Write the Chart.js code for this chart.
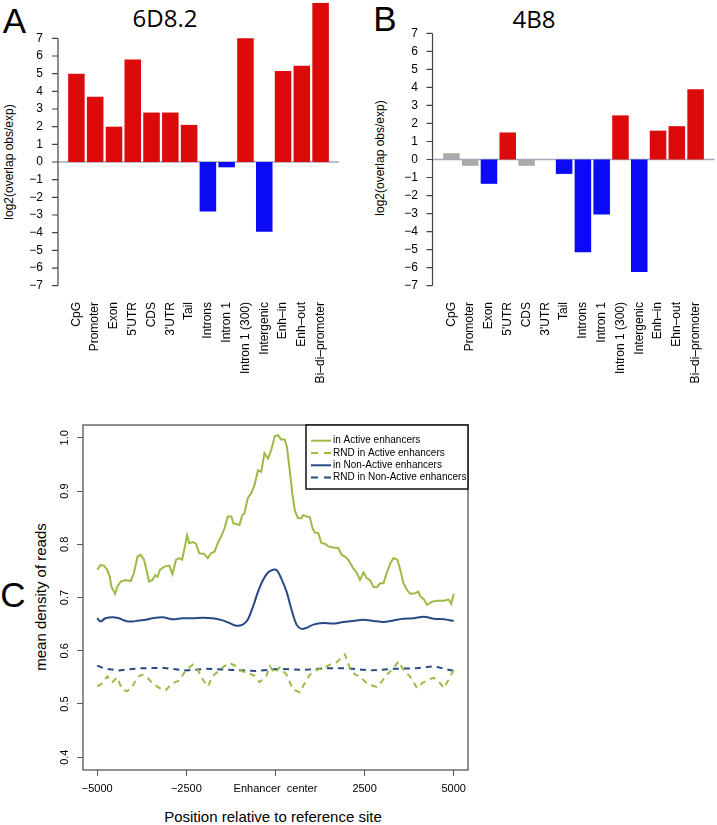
<!DOCTYPE html>
<html lang="en">
<head>
<meta charset="UTF-8" />
<title>6D8.2 / 4B8 overlap enrichment and enhancer read density</title>
<script src="https://cdn.jsdelivr.net/npm/chart.js"></script>
<style>
  body { margin: 0; width: 717px; height: 825px; position: relative; overflow: hidden; background: #fff;
         font-family: "Liberation Sans", Arial, sans-serif; color: #000; }
  canvas { position: absolute; }
  .lbl { position: absolute; white-space: nowrap; line-height: 1; transform: translate(-50%, -50%); }
  .letter { font-size: 35px; }
  .ptitle { font-family: "Open Sans", sans-serif; font-size: 24px; }
  .rot { transform: translate(-50%, -50%) rotate(-90deg); }
</style>
</head>
<body>
<div class="lbl letter" style="left:14.5px; top:19.5px;">A</div>
<div class="lbl letter" style="left:385px; top:18px;">B</div>
<div class="lbl letter" style="left:13px; top:594px;">C</div>
<div class="lbl ptitle" style="left:165px; top:18px;">6D8.2</div>
<div class="lbl ptitle" style="left:534px; top:19px;">4B8</div>
<div class="lbl rot" style="left:9px; top:162px; font-size:12px;">log2(overlap obs/exp)</div>
<div class="lbl rot" style="left:380px; top:158px; font-size:12px;">log2(overlap obs/exp)</div>
<div class="lbl rot" style="left:40px; top:597px; font-size:15px;">mean density of reads</div>
<div class="lbl" style="left:273px; top:816px; font-size:15px;">Position relative to reference site</div>

<canvas id="panelA" width="358" height="395" style="left:0; top:0;"></canvas>
<canvas id="panelB" width="359" height="395" style="left:358px; top:0;"></canvas>
<canvas id="panelC" width="480" height="425" style="left:0; top:400px;"></canvas>

<script>
// ---- panel A / B: log2(overlap obs/exp) per genomic feature ----
const featuresA = ["CpG", "Promoter", "Exon", "5'UTR", "CDS", "3'UTR", "Tail", "Introns", "Intron 1",
                   "Intron 1 (300)", "Intergenic", "Enh–in", "Enh–out", "Bi–di–promoter"];
const featuresB = ["CpG", "Promoter", "Exon", "5'UTR", "CDS", "3'UTR", "Tail", "Introns", "Intron 1",
                   "Intron 1 (300)", "Intergenic", "Enh–in", "Ehn–out", "Bi–di–promoter"];
const values6D8 = [5.0, 3.7, 2.0, 5.8, 2.8, 2.8, 2.1, -2.8, -0.3, 7.0, -3.95, 5.15, 5.45, 9.0];
const values4B8 = [0.35, -0.35, -1.35, 1.5, -0.35, 0, -0.8, -5.15, -3.05, 2.45, -6.25, 1.6, 1.85, 3.9];
const yTicksBars = [-7, -6, -5, -4, -3, -2, -1, 0, 1, 2, 3, 4, 5, 6, 7];

// ---- panel C: mean density of reads around enhancer centre ----
const posActive = [-5000, -4910, -4810, -4720, -4650, -4600, -4500, -4440, -4340, -4200,
                   -4060, -3970, -3870, -3780, -3690, -3620, -3550, -3450, -3380, -3310,
                   -3240, -3120, -2980, -2890, -2790, -2700, -2620, -2540, -2480, -2420,
                   -2320, -2230, -2140, -2000, -1900, -1810, -1710, -1620, -1530, -1430,
                   -1340, -1240, -1180, -1100, -1010, -930, -870, -780, -680, -590,
                   -490, -400, -310, -210, -120, -20, 70, 160, 260, 320,
                   400, 470, 540, 630, 730, 780, 870, 960, 1040, 1100,
                   1200, 1290, 1390, 1480, 1620, 1760, 1860, 1950, 2040, 2180,
                   2280, 2370, 2470, 2560, 2650, 2750, 2840, 2940, 3030, 3120,
                   3220, 3310, 3420, 3500, 3590, 3690, 3780, 3920, 4010, 4060,
                   4160, 4250, 4390, 4530, 4720, 4860, 4930, 5000];
const activeVals = [0.752, 0.761, 0.76, 0.752, 0.739, 0.72, 0.707, 0.72, 0.73, 0.733,
                    0.731, 0.746, 0.777, 0.78, 0.771, 0.752, 0.73, 0.733, 0.742, 0.739,
                    0.752, 0.758, 0.76, 0.744, 0.771, 0.774, 0.771, 0.796, 0.817, 0.802,
                    0.804, 0.801, 0.783, 0.782, 0.774, 0.783, 0.786, 0.802, 0.814, 0.83,
                    0.852, 0.852, 0.839, 0.838, 0.836, 0.855, 0.858, 0.886, 0.896, 0.911,
                    0.939, 0.936, 0.971, 0.961, 0.977, 1.003, 1.005, 0.997, 0.997, 0.983,
                    0.939, 0.896, 0.864, 0.849, 0.849, 0.855, 0.852, 0.851, 0.83, 0.822,
                    0.821, 0.802, 0.801, 0.796, 0.794, 0.793, 0.78, 0.777, 0.771, 0.755,
                    0.746, 0.733, 0.747, 0.736, 0.733, 0.72, 0.719, 0.727, 0.727, 0.746,
                    0.764, 0.774, 0.771, 0.752, 0.727, 0.714, 0.707, 0.708, 0.711, 0.702,
                    0.697, 0.686, 0.692, 0.694, 0.694, 0.696, 0.688, 0.707];

const posRndActive = [-5000, -4860, -4720, -4580, -4440, -4300, -4160, -4010, -3870, -3730,
                      -3590, -3450, -3260, -3080, -2890, -2700, -2510, -2320, -2180, -2040,
                      -1900, -1760, -1570, -1430, -1290, -1100, -920, -780, -590, -450,
                      -260, -160, -20, 120, 310, 490, 680, 820, 960, 1150,
                      1340, 1530, 1710, 1950, 2090, 2230, 2370, 2510, 2650, 2840,
                      2980, 3120, 3310, 3450, 3590, 3780, 3970, 4110, 4300, 4440,
                      4580, 4720, 4860, 5000];
const rndActiveVals = [0.533, 0.539, 0.552, 0.541, 0.55, 0.527, 0.524, 0.533, 0.551, 0.555,
                       0.549, 0.539, 0.53, 0.526, 0.539, 0.544, 0.564, 0.574, 0.564, 0.546,
                       0.533, 0.552, 0.564, 0.571, 0.577, 0.571, 0.561, 0.559, 0.553, 0.541,
                       0.552, 0.571, 0.558, 0.569, 0.555, 0.527, 0.522, 0.539, 0.555, 0.564,
                       0.567, 0.574, 0.578, 0.593, 0.567, 0.555, 0.552, 0.542, 0.536, 0.532,
                       0.542, 0.555, 0.567, 0.58, 0.564, 0.551, 0.53, 0.539, 0.546, 0.549,
                       0.542, 0.53, 0.546, 0.564];

const posNonActive = [-5000, -4910, -4770, -4580, -4390, -4200, -4010, -3830, -3640, -3450,
                      -3170, -2890, -2610, -2320, -2040, -1760, -1530, -1290, -1100, -920,
                      -780, -630, -490, -350, -210, -70, 40, 160, 310, 450,
                      590, 730, 870, 1060, 1340, 1620, 1900, 2180, 2470, 2750,
                      3030, 3310, 3590, 3870, 4160, 4440, 4720, 5000];
const nonActiveVals = [0.661, 0.655, 0.661, 0.663, 0.661, 0.656, 0.655, 0.657, 0.658, 0.661,
                       0.663, 0.659, 0.661, 0.661, 0.662, 0.661, 0.658, 0.652, 0.647, 0.649,
                       0.658, 0.683, 0.711, 0.733, 0.747, 0.752, 0.751, 0.736, 0.711, 0.677,
                       0.649, 0.641, 0.643, 0.649, 0.652, 0.651, 0.654, 0.656, 0.658, 0.656,
                       0.654, 0.657, 0.66, 0.661, 0.664, 0.66, 0.659, 0.656];

const posRndNonActive = [-5000, -4770, -4390, -3830, -3170, -2510, -1950, -1200, -540, 120,
                         780, 1430, 2000, 2650, 3310, 3970, 4440, 5000];
const rndNonActiveVals = [0.572, 0.566, 0.563, 0.567, 0.568, 0.563, 0.566, 0.564, 0.562, 0.566,
                          0.564, 0.567, 0.567, 0.563, 0.566, 0.567, 0.571, 0.562];

const xTickVals = [-5000, -2500, 0, 2500, 5000];
const xTickLabels = ["−5000", "−2500", "Enhancer  center", "2500", "5000"];
const yTicksC = [0.4, 0.5, 0.6, 0.7, 0.8, 0.9, 1.0];
const yTickLabelsC = ["0.4", "0.5", "0.6", "0.7", "0.8", "0.9", "1.0"];

// colours
const RED = "#dc0a0a", BLUE = "#0a0af5", GREY = "#aaaaaa";
const GREEN = "#9cbb45", NAVY = "#274a85";
const colorsA = [RED, RED, RED, RED, RED, RED, RED, BLUE, BLUE, RED, BLUE, RED, RED, RED];
const colorsB = [GREY, GREY, BLUE, RED, GREY, GREY, BLUE, BLUE, BLUE, RED, BLUE, RED, RED, RED];

const FONT = "'Liberation Sans', Arial, sans-serif";
Chart.defaults.font.family = FONT;
Chart.defaults.color = "#000";

function minus(v) {
    return v < 0 ? "−" + Math.abs(v) : String(v);
}

// R-style left axis set off from the bars, plus the zero line
const rAxis = {
    id: "rAxis",
    beforeDatasetsDraw(chart, args, opts) {
        const { ctx, chartArea, scales } = chart;
        const y0 = scales.y.getPixelForValue(0);
        ctx.save();
        ctx.strokeStyle = "#a3a9bb";
        ctx.lineWidth = 1.5;
        ctx.beginPath();
        ctx.moveTo(chartArea.left - opts.gap, y0);
        ctx.lineTo(chartArea.right + opts.gap, y0);
        ctx.stroke();
        ctx.restore();
    },
    afterDraw(chart, args, opts) {
        const { ctx, chartArea, scales } = chart;
        const y = scales.y;
        const ax = chartArea.left - opts.gap;
        ctx.save();
        ctx.strokeStyle = "#444";
        ctx.lineWidth = 1.2;
        ctx.beginPath();
        ctx.moveTo(ax, y.getPixelForValue(yTicksBars[0]));
        ctx.lineTo(ax, y.getPixelForValue(yTicksBars[yTicksBars.length - 1]));
        y.ticks.forEach((t) => {
            const p = y.getPixelForValue(t.value);
            ctx.moveTo(ax - 6, p);
            ctx.lineTo(ax, p);
        });
        ctx.stroke();
        ctx.restore();
    },
};

function barPanel(id, labels, values, colors, yMax, yWidth, pad, gap) {
    return new Chart(document.getElementById(id), {
        type: "bar",
        data: {
            labels: labels,
            datasets: [{ data: values, backgroundColor: colors, barPercentage: 0.88, categoryPercentage: 1 }],
        },
        options: {
            responsive: false,
            animation: false,
            layout: { padding: pad },
            plugins: { legend: { display: false }, tooltip: { enabled: false }, rAxis: { gap: gap } },
            scales: {
                x: {
                    grid: { display: false, drawTicks: false },
                    border: { display: false },
                    ticks: { autoSkip: false, minRotation: 90, maxRotation: 90, padding: 11, font: { size: 12 } },
                    afterFit: (s) => { s.height = 104; s.paddingLeft = 0; s.paddingRight = 0; },
                },
                y: {
                    min: -7.3,
                    max: yMax,
                    grid: { display: false, drawTicks: false },
                    border: { display: false },
                    afterBuildTicks: (s) => { s.ticks = yTicksBars.map((v) => ({ value: v })); },
                    ticks: { padding: 24, font: { size: 12 }, callback: (v) => minus(v) },
                    afterFit: (s) => { s.width = yWidth; s.paddingTop = 0; s.paddingBottom = 0; },
                },
            },
        },
        plugins: [rAxis],
    });
}

barPanel("panelA", featuresA, values6D8, colorsA, 9.0, 67, { top: 3, right: 28 }, 9);
barPanel("panelB", featuresB, values4B8, colorsB, 7.3, 84, { top: 28, right: 12 }, 9.5);

// panel C: box, rotated y labels and legend inside the plot
const frameC = {
    id: "frameC",
    afterDraw(chart) {
        const { ctx, chartArea, scales } = chart;
        ctx.save();
        ctx.strokeStyle = "#555";
        ctx.lineWidth = 1.3;
        ctx.strokeRect(chartArea.left, chartArea.top, chartArea.right - chartArea.left, chartArea.bottom - chartArea.top);

        ctx.fillStyle = "#000";
        ctx.font = "11px " + FONT;
        ctx.textAlign = "center";
        ctx.textBaseline = "middle";
        yTicksC.forEach((v, i) => {
            ctx.save();
            ctx.translate(chartArea.left - 18, scales.y.getPixelForValue(v));
            ctx.rotate(-Math.PI / 2);
            ctx.fillText(yTickLabelsC[i], 0, 0);
            ctx.restore();
        });

        // legend
        const bw = 162, bh = 64;
        const bx = chartArea.right - bw, by = chartArea.top;
        ctx.fillStyle = "#fff";
        ctx.fillRect(bx, by, bw, bh);
        ctx.strokeStyle = "#111";
        ctx.lineWidth = 1.5;
        ctx.strokeRect(bx, by, bw, bh);
        ctx.font = "10px " + FONT;
        ctx.textAlign = "left";
        chart.data.datasets.forEach((ds, i) => {
            const ry = by + 15.7 + i * 12.3;
            ctx.strokeStyle = ds.borderColor;
            ctx.lineWidth = 2;
            ctx.setLineDash(ds.borderDash ? [7, 6] : []);
            ctx.beginPath();
            ctx.moveTo(bx + 5, ry);
            ctx.lineTo(bx + 25, ry);
            ctx.stroke();
            ctx.setLineDash([]);
            ctx.fillStyle = "#000";
            ctx.fillText(ds.label, bx + 27, ry);
        });
        ctx.restore();
    },
};

function pts(xs, ys) {
    return xs.map((x, i) => ({ x: x, y: ys[i] }));
}

new Chart(document.getElementById("panelC"), {
    type: "line",
    data: {
        datasets: [
            { label: "in Active enhancers", data: pts(posActive, activeVals), borderColor: GREEN, borderWidth: 2 },
            { label: "RND in Active enhancers", data: pts(posRndActive, rndActiveVals), borderColor: GREEN, borderWidth: 2, borderDash: [6, 5] },
            { label: "in Non-Active enhancers", data: pts(posNonActive, nonActiveVals), borderColor: NAVY, borderWidth: 2, tension: 0.3 },
            { label: "RND in Non-Active enhancers", data: pts(posRndNonActive, rndNonActiveVals), borderColor: NAVY, borderWidth: 2, borderDash: [6, 5] },
        ],
    },
    options: {
        responsive: false,
        animation: false,
        elements: { point: { radius: 0 }, line: { tension: 0 } },
        layout: { padding: { top: 25, right: 12 } },
        plugins: { legend: { display: false }, tooltip: { enabled: false } },
        scales: {
            x: {
                type: "linear",
                min: -5400,
                max: 5400,
                grid: { drawOnChartArea: false, tickLength: 6, color: "#555" },
                border: { display: false },
                afterBuildTicks: (s) => { s.ticks = xTickVals.map((v) => ({ value: v })); },
                ticks: { maxRotation: 0, autoSkip: false, padding: 6, font: { size: 11 },
                         callback: (v) => xTickLabels[xTickVals.indexOf(v)] },
                afterFit: (s) => { s.height = 55; s.paddingLeft = 0; s.paddingRight = 0; },
            },
            y: {
                min: 0.376,
                max: 1.024,
                grid: { drawOnChartArea: false, tickLength: 6, color: "#555" },
                border: { display: false },
                afterBuildTicks: (s) => { s.ticks = yTicksC.map((v) => ({ value: v })); },
                ticks: { display: false },
                afterFit: (s) => { s.width = 83; s.paddingTop = 0; s.paddingBottom = 0; },
            },
        },
    },
    plugins: [frameC],
});
</script>
</body>
</html>
